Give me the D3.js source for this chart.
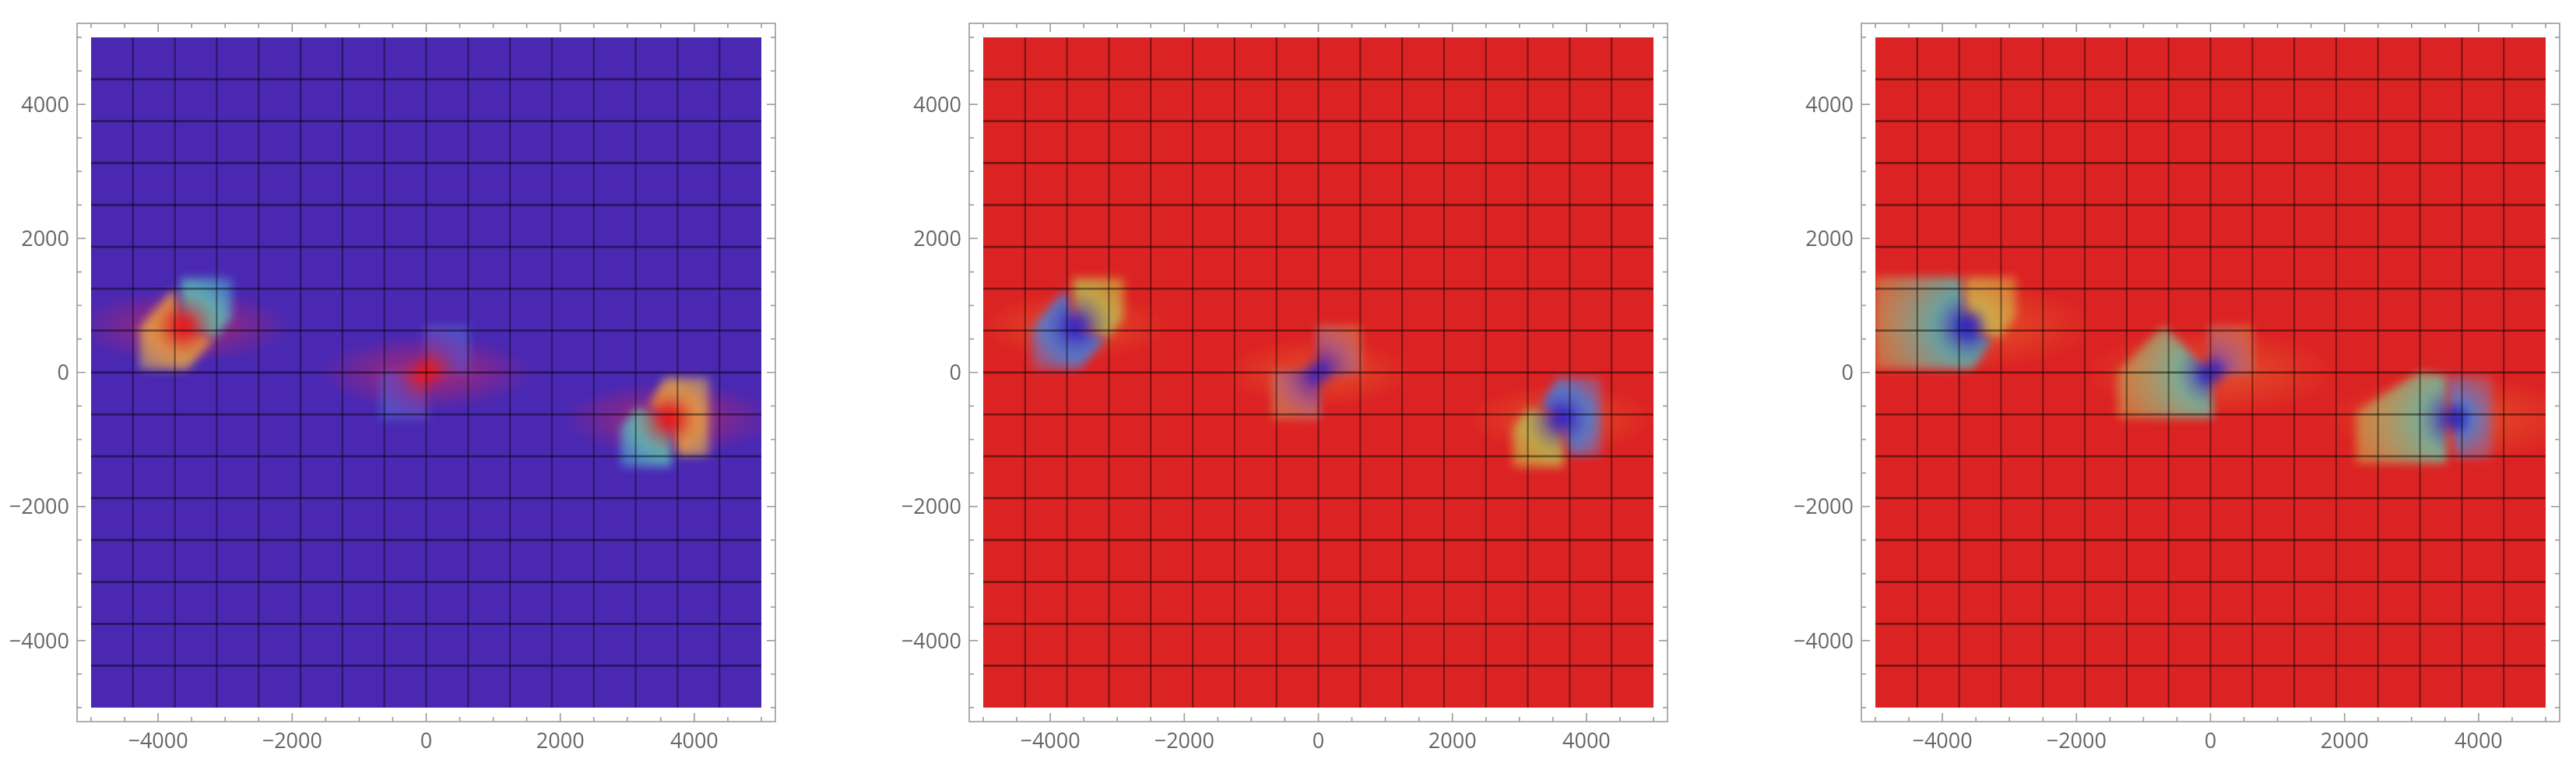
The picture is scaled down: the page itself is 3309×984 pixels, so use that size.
<!DOCTYPE html>
<html><head><meta charset="utf-8">
<script src="https://cdn.jsdelivr.net/npm/d3@7"></script>
<style>body{margin:0;background:#fff;overflow:hidden}#wrap{position:relative;width:3309px;height:984px}canvas,svg{position:absolute;left:0;top:0}</style>
</head><body><div id="wrap"></div>
<script>
// ---------- data ----------
const xDomain = [-5000, 5000];
const yDomain = [-5000, 5000];
const majorTicks = [-4000, -2000, 0, 2000, 4000];
const minorTicks = [-5000,-4500,-3500,-3000,-2500,-1500,-1000,-500,500,1000,1500,2500,3000,3500,4500,5000];
const meshLines = [-4375,-3750,-3125,-2500,-1875,-1250,-625,0,625,1250,1875,2500,3125,3750,4375];
const panelOffsets = [0, 1146, 2292];
const backgrounds = ["#4a28b2", "#dc2323", "#dc2323"];
const blobCenters = [[-3620, 690], [0, 0], [3620, -690]];
// halo per panel: colour, opacity, radius x, radius y
const halos = [["#d02858", 0.75, 1600, 560], ["#e8602c", 0.7, 1400, 520], ["#e8602c", 0.75, 1900, 650]];
// mid colour-stop position per panel
const midStops = [0.5, 0.5, 0.32];
// lobes: panel, blob, polygon (relative to blob centre), colours [near centre, middle, outer]
const lobes = [
 // panel 1
 [0,0,[[-40,720],[720,720],[720,120],[470,-170],[0,0],[-40,420]],["#e02a2a","#60c0b0","#4aa0e0"]],
 [0,0,[[-660,-650],[60,-650],[440,-200],[0,0],[-150,560],[-660,-20]],["#e02020","#e8a040","#d8b860"]],
 [0,1,[[-40,700],[640,700],[640,-20],[60,-40],[0,0]],["#e02020","#7040b0","#4a78e0"]],
 [0,1,[[40,-700],[-690,-700],[-690,20],[-60,40],[0,0]],["#e02020","#7040b0","#4a78e0"]],
 [0,2,[[40,-720],[-720,-720],[-720,-120],[-470,170],[0,0],[40,-420]],["#e02a2a","#60c0b0","#4aa0e0"]],
 [0,2,[[600,620],[-60,620],[-300,200],[0,0],[150,-560],[600,-560]],["#e02020","#e8a040","#d8b860"]],
 // panel 2
 [1,0,[[-40,720],[720,720],[720,120],[470,-170],[0,0],[-40,420]],["#4030c0","#b8b850","#d8c040"]],
 [1,0,[[-660,-650],[60,-650],[440,-200],[0,0],[-150,560],[-660,-20]],["#3030d0","#4a80d8","#b06080"]],
 [1,1,[[-40,700],[640,700],[640,-20],[60,-40],[0,0]],["#5020b0","#b06080","#e89040"]],
 [1,1,[[40,-700],[-690,-700],[-690,20],[-60,40],[0,0]],["#5020b0","#b06080","#e8a040"]],
 [1,2,[[40,-720],[-720,-720],[-720,-120],[-470,170],[0,0],[40,-420]],["#4030c0","#b8b850","#d8c040"]],
 [1,2,[[600,620],[-60,620],[-300,200],[0,0],[150,-560],[600,-560]],["#3030d0","#4a80d8","#b06080"]],
 // panel 3
 [2,0,[[-40,740],[720,740],[720,150],[470,-170],[0,0],[-40,420]],["#4030c0","#c8b850","#e0b040"]],
 [2,0,[[-1400,-640],[80,-640],[360,-200],[0,0],[-100,740],[-1400,740]],["#2828d0","#58b0b0","#d8a850"]],
 [2,1,[[-40,700],[640,700],[640,-20],[60,-40],[0,0]],["#4020c0","#a05890","#e89040"]],
 [2,1,[[40,-680],[-1390,-680],[-1390,0],[-700,700],[-60,40],[0,0]],["#3030c8","#70b8a0","#d8b048"]],
 [2,2,[[-1450,-660],[-100,-660],[-100,640],[-500,700],[-1450,100]],["#3030c8","#70b8a0","#d8c048"]],
 [2,2,[[40,-600],[580,-600],[580,640],[-100,640],[0,0]],["#2828d0","#4a80d8","#c06070"]]
];
const peakColors = ["#e81818", "#3020c8", "#2020c8"];

// ---------- layout ----------
const W = 3309, H = 984;
const plotL = 117, plotR = 978, plotT = 48, plotB = 909, pad = 18;
const wrap = d3.select("#wrap");
const canvas = wrap.append("canvas").attr("width", W).attr("height", H).node();
const ctx = canvas.getContext("2d");
const svg = wrap.append("svg").attr("width", W).attr("height", H);

panelOffsets.forEach((off, p) => {
  const x = d3.scaleLinear().domain(xDomain).range([plotL + off, plotR + off]);
  const y = d3.scaleLinear().domain(yDomain).range([plotB, plotT]);
  ctx.save();
  ctx.beginPath(); ctx.rect(x(-5000), y(5000), x(5000) - x(-5000), y(-5000) - y(5000)); ctx.clip();
  ctx.fillStyle = backgrounds[p];
  ctx.fillRect(x(-5000), y(5000), x(5000) - x(-5000), y(-5000) - y(5000));
  const h = halos[p];
  blobCenters.forEach(c => {
    ctx.save();
    const cx = x(c[0]), cy = y(c[1]);
    const rx = x(h[2]) - x(0), ry = y(0) - y(h[3]);
    ctx.translate(cx, cy); ctx.scale(1, ry / rx);
    const g = ctx.createRadialGradient(0, 0, 0, 0, 0, rx);
    const col = d3.color(h[0]);
    g.addColorStop(0, col.copy({opacity: h[1]}).toString());
    g.addColorStop(0.45, col.copy({opacity: h[1] * 0.55}).toString());
    g.addColorStop(1, col.copy({opacity: 0}).toString());
    ctx.fillStyle = g;
    ctx.beginPath(); ctx.arc(0, 0, rx, 0, 2 * Math.PI); ctx.fill();
    ctx.restore();
  });
  ctx.filter = "blur(6px)";
  lobes.filter(l => l[0] === p).forEach(l => {
    const c = blobCenters[l[1]];
    const pts = l[2].map(q => [x(c[0] + q[0]), y(c[1] + q[1])]);
    const cx = x(c[0]), cy = y(c[1]);
    const rmax = d3.max(pts, q => Math.hypot(q[0] - cx, q[1] - cy));
    const g = ctx.createRadialGradient(cx, cy, 0, cx, cy, rmax);
    g.addColorStop(0, l[3][0]);
    g.addColorStop(midStops[p], l[3][1]);
    g.addColorStop(1, d3.color(l[3][2]).copy({opacity: 0.55}).toString());
    ctx.fillStyle = g;
    ctx.globalAlpha = 0.88;
    ctx.beginPath();
    pts.forEach((q, i) => i ? ctx.lineTo(q[0], q[1]) : ctx.moveTo(q[0], q[1]));
    ctx.closePath(); ctx.fill();
  });
  ctx.globalAlpha = 1;
  blobCenters.forEach(c => {
    const cx = x(c[0]), cy = y(c[1]);
    const g = ctx.createRadialGradient(cx, cy, 0, cx, cy, 22);
    const col = d3.color(peakColors[p]);
    g.addColorStop(0, col.toString());
    g.addColorStop(1, col.copy({opacity: 0}).toString());
    ctx.fillStyle = g;
    ctx.beginPath(); ctx.arc(cx, cy, 22, 0, 2 * Math.PI); ctx.fill();
  });
  ctx.filter = "none";
  ctx.restore();

  const gp = svg.append("g");
  gp.selectAll(".v").data(meshLines).join("line")
    .attr("x1", d => x(d)).attr("x2", d => x(d)).attr("y1", y(5000)).attr("y2", y(-5000))
    .attr("stroke", "rgba(0,0,0,0.42)").attr("stroke-width", 2.2);
  gp.selectAll(".h").data(meshLines).join("line")
    .attr("y1", d => y(d)).attr("y2", d => y(d)).attr("x1", x(-5000)).attr("x2", x(5000))
    .attr("stroke", "rgba(0,0,0,0.45)").attr("stroke-width", 2.8);
  const fl = x(-5000) - pad, fr = x(5000) + pad, ft = y(5000) - pad, fb = y(-5000) + pad;
  gp.append("rect").attr("x", fl).attr("y", ft).attr("width", fr - fl).attr("height", fb - ft)
    .attr("fill", "none").attr("stroke", "#9a9a9a").attr("stroke-width", 1.6);
  const tickStyle = s => s.attr("stroke", "#9a9a9a").attr("stroke-width", 1.6);
  [[majorTicks, 11], [minorTicks, 6]].forEach(([ticks, len]) => {
    ticks.forEach(t => {
      tickStyle(gp.append("line").attr("x1", x(t)).attr("x2", x(t)).attr("y1", fb).attr("y2", fb - len));
      tickStyle(gp.append("line").attr("x1", x(t)).attr("x2", x(t)).attr("y1", ft).attr("y2", ft + len));
      tickStyle(gp.append("line").attr("y1", y(t)).attr("y2", y(t)).attr("x1", fl).attr("x2", fl + len));
      tickStyle(gp.append("line").attr("y1", y(t)).attr("y2", y(t)).attr("x1", fr).attr("x2", fr - len));
    });
  });
  const fmt = d => (d < 0 ? "\u2212" : "") + Math.abs(d);
  gp.selectAll(".xl").data(majorTicks).join("text")
    .attr("x", d => x(d)).attr("y", fb + 34).attr("text-anchor", "middle")
    .attr("font-family", "Open Sans, sans-serif").attr("font-size", 27).attr("fill", "#666").text(fmt);
  gp.selectAll(".yl").data(majorTicks).join("text")
    .attr("x", fl - 10).attr("y", d => y(d)).attr("dy", "0.36em").attr("text-anchor", "end")
    .attr("font-family", "Open Sans, sans-serif").attr("font-size", 27).attr("fill", "#666").text(fmt);
});
</script></body></html>
